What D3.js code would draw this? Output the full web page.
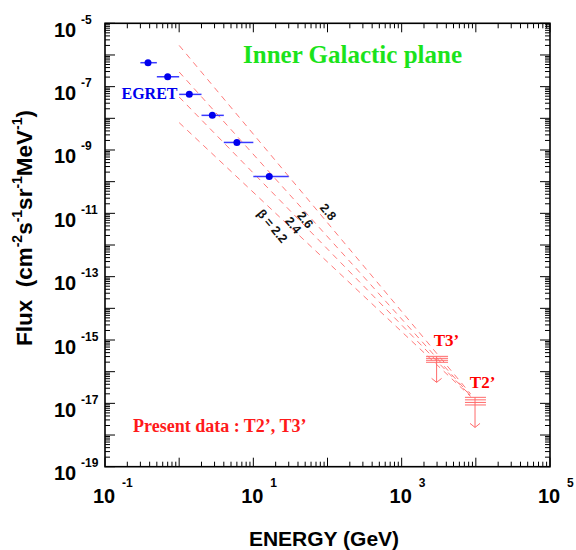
<!DOCTYPE html>
<html>
<head>
<meta charset="utf-8">
<script src="https://cdn.jsdelivr.net/npm/d3@7"></script>
<style>
  html, body { margin: 0; padding: 0; background: #fff; }
  svg { display: block; }
</style>
</head>
<body>
<svg id="chart" width="576" height="550"></svg>
<script>
// ---------------- DATA ----------------
// EGRET points (energy in GeV, flux)
const egretEnergy = [0.38, 0.70, 1.37, 2.8, 6.0, 16.4];
const egretFlux   = [5.7e-7, 2.05e-7, 5.7e-8, 1.24e-8, 1.73e-9, 1.46e-10];
const egretElow   = [0.3, 0.5, 1, 2, 4, 10];
const egretEhigh  = [0.5, 1, 2, 4, 10, 30];

// power-law extrapolations  F = norm * E^-beta
const betas        = [2.2, 2.4, 2.6, 2.8];
const betaNorm1GeV = [7.3e-9, 4.7e-8, 2.9e-7, 2.0e-6];
const betaEmin = 1, betaEmax = 8500;
const betaLabels   = ["\u03b2 = 2.2", "2.4", "2.6", "2.8"];
const betaLabelE   = [17.9, 34.3, 49.8, 101.6];
const betaLabelF   = [3.9e-12, 4.2e-12, 6.1e-12, 1.1e-11];

// present data upper limits (T3', T2')
const limitNames   = ["T3\u2019", "T2\u2019"];
const limitEnergy  = [2960, 9750];
const limitElow    = [2130, 7140];
const limitEhigh   = [4220, 13700];
const limitFluxes  = [[3.05e-16, 2.64e-16, 2.29e-16, 1.98e-16],
                      [1.55e-17, 1.29e-17, 1.07e-17, 8.9e-18]];
const limitArrowTo = [4.6e-17, 1.74e-18];
const limitLabelE  = [2700, 8300];
const limitLabelF  = [6.5e-16, 3.0e-17];

// axes
const xDecades = [-1, 0, 1, 2, 3, 4, 5];
const xLabelExp = [-1, 1, 3, 5];
const yDecades = d3.range(-19, -4);
const yLabelExp = [-5, -7, -9, -11, -13, -15, -17, -19];

// ---------------- LAYOUT ----------------
const svg = d3.select("#chart");
const L = 105, T = 23.3, R = 550, B = 466.7;
const x = d3.scaleLog().domain([1e-1, 1e5]).range([L, R]);
const y = d3.scaleLog().domain([1e-19, 1e-5]).range([B, T]);
const SANS = "'Liberation Sans', Arial, Helvetica, sans-serif";
const SERIF = "'Liberation Serif', 'Times New Roman', Times, serif";

// ticks
const tickG = svg.append("g").attr("stroke", "#000").attr("stroke-width", 1);
function minorVals(decades) {
  const out = [];
  decades.forEach(d => { for (let m = 2; m <= 9; m++) out.push({v: m * Math.pow(10, d), major: false}); });
  return out;
}
const xTicks = xDecades.map(d => ({v: Math.pow(10, d), major: true}))
  .concat(minorVals(xDecades.slice(0, -1)));
const yTicks = yDecades.map(d => ({v: Math.pow(10, d), major: true}))
  .concat(minorVals(yDecades.slice(0, -1)));
xTicks.forEach(t => {
  const px = x(t.v), len = t.major ? 9 : 5;
  tickG.append("line").attr("x1", px).attr("x2", px).attr("y1", B).attr("y2", B - len);
  tickG.append("line").attr("x1", px).attr("x2", px).attr("y1", T).attr("y2", T + len);
});
yTicks.forEach(t => {
  const py = y(t.v), len = t.major ? 10 : 5;
  tickG.append("line").attr("x1", L).attr("x2", L + len).attr("y1", py).attr("y2", py);
  tickG.append("line").attr("x1", R).attr("x2", R - len).attr("y1", py).attr("y2", py);
});

// frame
svg.append("rect").attr("x", L).attr("y", T).attr("width", R - L).attr("height", B - T)
  .attr("fill", "none").attr("stroke", "#000").attr("stroke-width", 1.6);

// tick labels
xLabelExp.forEach(e => {
  const px = x(Math.pow(10, e));
  svg.append("text").attr("x", px - 1).attr("y", 503).attr("text-anchor", "middle")
    .attr("font-family", SANS).attr("font-weight", "bold").attr("font-size", 20).text("10");
  svg.append("text").attr("x", px + 17).attr("y", 487).attr("text-anchor", "start")
    .attr("font-family", SANS).attr("font-weight", "bold").attr("font-size", 12).text(String(e));
});
yLabelExp.forEach(e => {
  const py = y(Math.pow(10, e));
  svg.append("text").attr("x", 54).attr("y", py + 13.5).attr("text-anchor", "start")
    .attr("font-family", SANS).attr("font-weight", "bold").attr("font-size", 20).text("10");
  svg.append("text").attr("x", 81).attr("y", py + 0.5).attr("text-anchor", "start")
    .attr("font-family", SANS).attr("font-weight", "bold").attr("font-size", 12).text(String(e));
});

// axis titles
svg.append("text").attr("x", 324).attr("y", 546).attr("text-anchor", "middle")
  .attr("font-family", SANS).attr("font-weight", "bold").attr("font-size", 21).text("ENERGY (GeV)");

const yt = svg.append("text").attr("transform", "translate(32,228) rotate(-90)")
  .attr("text-anchor", "middle").attr("font-family", SANS).attr("font-weight", "bold").attr("font-size", 22.5);
yt.append("tspan").text("Flux\u00a0\u00a0(cm");
yt.append("tspan").attr("font-size", 14).attr("dy", -10).text("-2");
yt.append("tspan").attr("dy", 10).text("s");
yt.append("tspan").attr("font-size", 14).attr("dy", -10).text("-1");
yt.append("tspan").attr("dy", 10).text("sr");
yt.append("tspan").attr("font-size", 14).attr("dy", -10).text("-1");
yt.append("tspan").attr("dy", 10).text("MeV");
yt.append("tspan").attr("font-size", 14).attr("dy", -10).text("-1");
yt.append("tspan").attr("dy", 10).text(")");

// power-law dashed lines
const lineGen = d3.line().x(d => x(d[0])).y(d => y(d[1]));
betas.forEach((b, i) => {
  const pts = [betaEmin, betaEmax].map(E => [E, betaNorm1GeV[i] * Math.pow(E, -b)]);
  svg.append("path").attr("d", lineGen(pts)).attr("fill", "none")
    .attr("stroke", "#ff7a7a").attr("stroke-width", 1).attr("stroke-dasharray", "6,5");
});
betaLabels.forEach((lab, i) => {
  svg.append("text").attr("transform", `translate(${x(betaLabelE[i])},${y(betaLabelF[i])}) rotate(50)`)
    .attr("text-anchor", "middle").attr("dominant-baseline", "central")
    .attr("font-family", SANS).attr("font-weight", "bold").attr("font-size", 12.5).attr("fill", "#111").text(lab);
});

// EGRET points
const eg = svg.append("g");
egretEnergy.forEach((E, i) => {
  eg.append("line").attr("x1", x(egretElow[i])).attr("x2", x(egretEhigh[i]))
    .attr("y1", y(egretFlux[i])).attr("y2", y(egretFlux[i]))
    .attr("stroke", "#3a3aff").attr("stroke-width", 1.5);
  eg.append("circle").attr("cx", x(E)).attr("cy", y(egretFlux[i])).attr("r", 3.5).attr("fill", "#0000ee");
});

// upper limits
limitEnergy.forEach((E, i) => {
  const g = svg.append("g").attr("stroke", "#ff6a6a").attr("stroke-width", 1).attr("fill", "none");
  limitFluxes[i].forEach(f => {
    g.append("line").attr("x1", x(limitElow[i])).attr("x2", x(limitEhigh[i]))
      .attr("y1", y(f)).attr("y2", y(f));
  });
  const px = x(E), top = y(limitFluxes[i][0]), bot = y(limitArrowTo[i]);
  g.append("line").attr("x1", px).attr("x2", px).attr("y1", top).attr("y2", bot);
  g.append("path").attr("d", `M${px - 5},${bot - 4}L${px},${bot}L${px + 5},${bot - 4}`);
  svg.append("text").attr("x", x(limitLabelE[i])).attr("y", y(limitLabelF[i]))
    .attr("font-family", SERIF).attr("font-weight", "bold").attr("font-size", 17)
    .attr("fill", "#ff0000").text(limitNames[i]);
});

// annotations
svg.append("text").attr("x", 243).attr("y", 62.5).attr("font-family", SERIF).attr("font-weight", "bold")
  .attr("font-size", 25).attr("fill", "#1be31b").text("Inner Galactic plane");
svg.append("text").attr("x", 121.5).attr("y", 99.3).attr("font-family", SERIF).attr("font-weight", "bold")
  .attr("font-size", 16).attr("fill", "#0000ee").text("EGRET");
svg.append("text").attr("x", 133).attr("y", 432).attr("font-family", SERIF).attr("font-weight", "bold")
  .attr("font-size", 18).attr("fill", "#ff1a1a").text("Present data : T2\u2019, T3\u2019");
</script>
</body>
</html>
